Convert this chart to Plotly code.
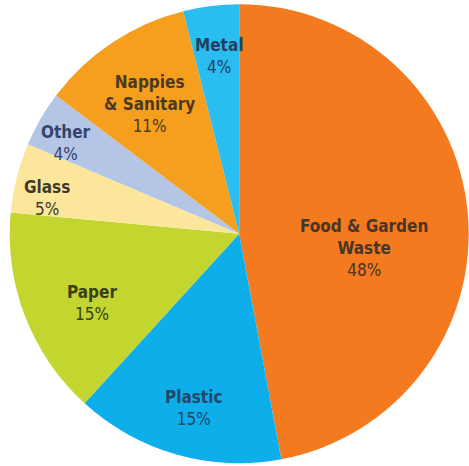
import math
import plotly.graph_objects as go

# ---- data ----
labels = ["Food & Garden Waste", "Plastic", "Paper", "Glass", "Other",
          "Nappies & Sanitary", "Metal"]
values = [48, 15, 15, 5, 4, 11, 4]
label_lines = ["Food & Garden<br>Waste", "Plastic", "Paper", "Glass", "Other",
               "Nappies<br>& Sanitary", "Metal"]
pct_text = ["48%", "15%", "15%", "5%", "4%", "11%", "4%"]

# ---- styles ----
colors = ["#F47A20", "#0DAEEA", "#C3D52F", "#FBE69C", "#B5C5E6", "#F69F1F", "#2ABDEF"]
text_colors = ["#4A3526", "#21476A", "#3A3F18", "#3E3A2A", "#34446A", "#4A3A24", "#1F3F63"]
radial_frac = [0.547, 0.786, 0.709, 0.852, 0.852, 0.686, 0.779]
angle_shift = [11.8, -1.1, -4.0, -3.6, -2.4, -1.0, 0.6]

W, H = 469, 466
dom_x = [0.02, 1.0]
dom_y = [0.006, 0.991]

fig = go.Figure(go.Pie(
    labels=labels, values=values, sort=False, direction="clockwise",
    rotation=0, textinfo="none", hoverinfo="label+percent",
    marker=dict(colors=colors, line=dict(width=0)),
    domain=dict(x=dom_x, y=dom_y), showlegend=False,
))

# label positions derived from the slice angles
pw = (dom_x[1] - dom_x[0]) * W
ph = (dom_y[1] - dom_y[0]) * H
R = min(pw, ph) / 2
cx = (dom_x[0] + dom_x[1]) / 2 * W
cy = (dom_y[0] + dom_y[1]) / 2 * H  # from bottom
total = sum(values)
cum = 0
font_family = "DejaVu Sans Condensed, Liberation Sans Narrow, sans-serif"
for i, v in enumerate(values):
    mid = (cum + v / 2) / total * 360 + angle_shift[i]
    cum += v
    rr = R * radial_frac[i]
    x = cx + rr * math.sin(math.radians(mid))
    y = cy + rr * math.cos(math.radians(mid))
    fig.add_annotation(
        x=x / W, y=y / H, xref="paper", yref="paper",
        xanchor="center", yanchor="middle", showarrow=False,
        text=f"<b>{label_lines[i]}</b><br>{pct_text[i]}",
        font=dict(family=font_family, size=17, color=text_colors[i]),
        align="center",
    )

fig.update_layout(
    width=W, height=H, margin=dict(l=0, r=0, t=0, b=0),
    paper_bgcolor="white", plot_bgcolor="white",
)
fig.write_html("out.html")
